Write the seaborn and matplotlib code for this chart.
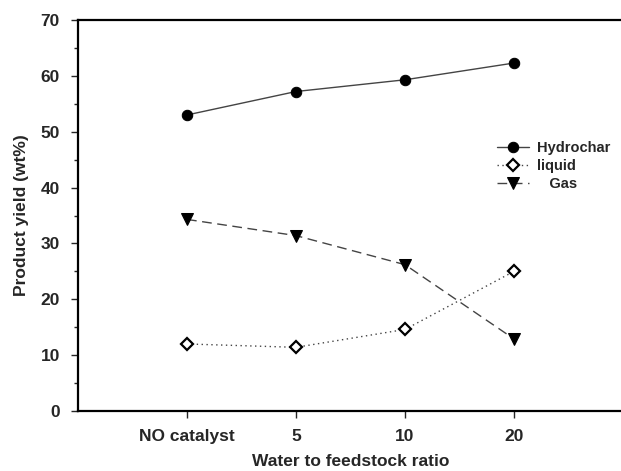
import matplotlib
matplotlib.use("Agg")
import matplotlib.pyplot as plt
import seaborn as sb
import pandas as pd
from matplotlib.ticker import MultipleLocator

ratio_labels = ["NO catalyst", "5", "10", "20"]
hydrochar = [53.0, 57.2, 59.3, 62.3]
liquid = [12.0, 11.4, 14.6, 25.0]
gas = [34.3, 31.4, 26.2, 12.9]

sb.set_style("ticks")
plt.rcParams['font.family'] = ['Liberation Sans', 'DejaVu Sans']
plt.rcParams['font.weight'] = 'bold'

pos = list(range(len(ratio_labels)))
df = pd.DataFrame({"pos": pos, "Hydrochar": hydrochar, "liquid": liquid, "Gas": gas})

fig = plt.figure(figsize=(6.21, 4.71), dpi=100)
ax = fig.add_axes([0.1256, 0.1274, 0.8776, 0.8301])

sb.lineplot(data=df, x="pos", y="Hydrochar", ax=ax, color="#444444", linewidth=1.0,
            linestyle="-", marker="o", markersize=7.5, markerfacecolor="black",
            markeredgecolor="black", label="Hydrochar")
sb.lineplot(data=df, x="pos", y="liquid", ax=ax, color="#444444", linewidth=1.0,
            linestyle=(0, (1, 2.5)), marker="D", markersize=6, markerfacecolor="white",
            markeredgecolor="black", markeredgewidth=1.6, label="liquid")
sb.lineplot(data=df, x="pos", y="Gas", ax=ax, color="#444444", linewidth=1.0,
            linestyle=(0, (7, 4)), marker="v", markersize=8, markerfacecolor="black",
            markeredgecolor="black", label="   Gas")

ax.set_xlim(-1, 4)
ax.set_ylim(0, 70)
ax.set_xticks(pos)
ax.set_xticklabels(ratio_labels, fontsize=12.5, fontweight="bold")
ax.yaxis.set_major_locator(MultipleLocator(10))
ax.yaxis.set_minor_locator(MultipleLocator(5))
for t in ax.get_yticklabels():
    t.set_fontsize(12.5)
    t.set_fontweight("bold")
ax.tick_params(axis="both", which="major", direction="out", length=5, width=1, pad=8)
ax.tick_params(axis="y", which="minor", direction="out", length=3, width=1)
for s in ["left", "top", "bottom"]:
    ax.spines[s].set_linewidth(1.6)
    ax.spines[s].set_color("black")
ax.spines["right"].set_visible(False)

ax.set_xlabel("Water to feedstock ratio", fontsize=12.5, fontweight="bold", labelpad=7)
ax.set_ylabel("Product yield (wt%)", fontsize=12.5, fontweight="bold", labelpad=8)

leg = ax.legend(loc="upper left", bbox_to_anchor=(0.745, 0.725), frameon=False,
                handlelength=2.2, handletextpad=0.5, labelspacing=0.3,
                prop={"size": 10.5, "weight": "bold"})

fig.savefig("out.png", dpi=100)
plt.close(fig)
